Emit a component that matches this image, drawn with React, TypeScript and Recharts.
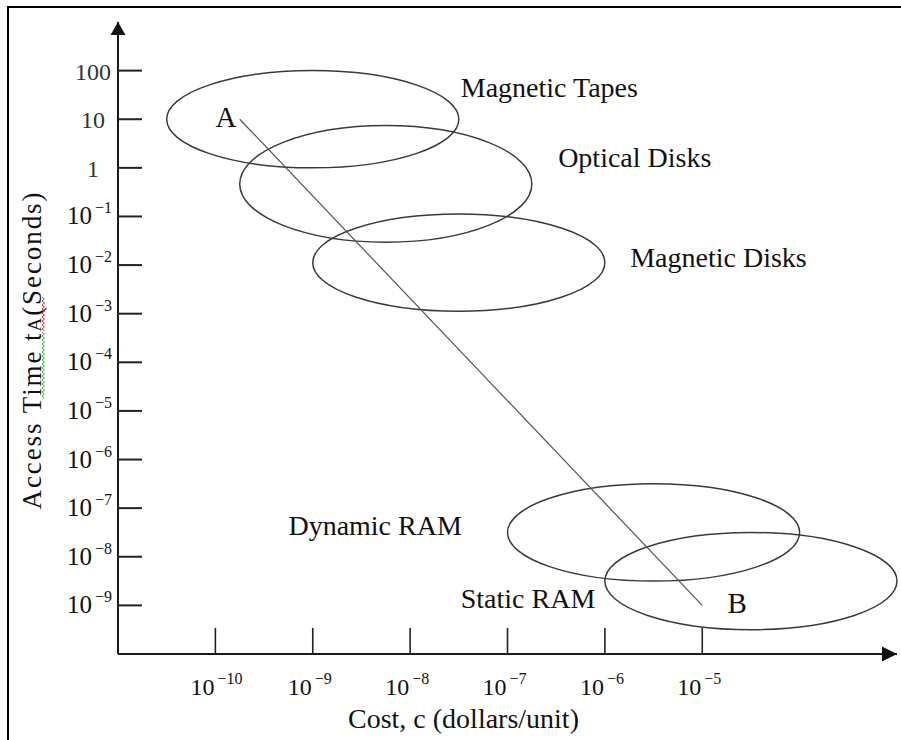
import React from 'react';
import {
  ComposedChart,
  XAxis,
  YAxis,
  Scatter,
  ReferenceArea,
  ReferenceLine,
  ReferenceDot,
} from 'recharts';

// axes are in log10 units: cost (dollars/unit) and access time (seconds)
const X_TICKS = [-10, -9, -8, -7, -6, -5];
const X_TICK_LABELS = ['10^−10', '10^−9', '10^−8', '10^−7', '10^−6', '10^−5'];
const Y_TICKS = [2, 1, 0, -1, -2, -3, -4, -5, -6, -7, -8, -9];
const Y_TICK_LABELS = ['100', '10', '1', '10^−1', '10^−2', '10^−3', '10^−4', '10^−5', '10^−6', '10^−7', '10^−8', '10^−9'];

// storage technology regions (ellipse centre and half widths, in decades)
const REGIONS = ['Magnetic Tapes', 'Optical Disks', 'Magnetic Disks', 'Dynamic RAM', 'Static RAM'];
const REGION_COST = [-9.0, -8.25, -7.5, -5.5, -4.5];
const REGION_TIME = [1.0, -0.33, -1.95, -7.5, -8.5];
const REGION_COST_HALF = [1.5, 1.5, 1.5, 1.5, 1.5];
const REGION_TIME_HALF = [1.0, 1.2, 1.0, 1.0, 1.0];
const LABEL_COST = [-7.48, -6.48, -5.74, -9.25, -7.48];
const LABEL_TIME = [1.46, 0.02, -2.04, -7.55, -9.05];

// trade-off line A -> B
const LINE_POINTS = ['A', 'B'];
const LINE_COST = [-9.75, -5];
const LINE_TIME = [1, -9];
const POINT_LABEL_COST = [-10.0, -4.74];
const POINT_LABEL_TIME = [0.84, -9.16];

const X_DOMAIN = [-11, -3];
const Y_DOMAIN = [-10, 3];

const FONT = '"Liberation Serif", "DejaVu Serif", serif';
const INK = '#111';

const regionLabels = REGIONS.map((name, i) => ({ name, x: LABEL_COST[i], y: LABEL_TIME[i] }));
const pointLabels = LINE_POINTS.map((name, i) => ({ name, x: POINT_LABEL_COST[i], y: POINT_LABEL_TIME[i] }));

function splitLabel(label: string) {
  const [base, sup] = label.split('^');
  return { base, sup };
}

// spell-checker squiggle seen under the rotated axis title
function squiggle(x: number, y0: number, y1: number) {
  let d = `M${x},${y0}`;
  let flip = false;
  for (let y = y0 + 2; y <= y1; y += 2) {
    d += ` L${flip ? x : x + 2.5},${y}`;
    flip = !flip;
  }
  return d;
}

const YTick = (props: any) => {
  const { x, y, index } = props;
  const { base, sup } = splitLabel(Y_TICK_LABELS[index] ?? '');
  return (
    <g>
      <line x1={x} x2={x + 24} y1={y} y2={y} stroke="#222" strokeWidth={2} />
      {sup ? (
        <text x={x - 6} y={y + 8} textAnchor="end" fontFamily={FONT} fill={INK}>
          <tspan fontSize={25}>{base}</tspan>
          <tspan fontSize={16} dx={3} dy={-11}>{sup}</tspan>
        </text>
      ) : (
        <text x={x - 25} y={y + 9} textAnchor="middle" fontFamily={FONT} fontSize={24} fill="#333">
          {base}
        </text>
      )}
    </g>
  );
};

const XTick = (props: any) => {
  const { x, y, index } = props;
  const { base, sup } = splitLabel(X_TICK_LABELS[index] ?? '');
  return (
    <g>
      <line x1={x} x2={x} y1={y} y2={y - 26} stroke="#222" strokeWidth={1.6} />
      <text x={x - 25} y={y + 41} fontFamily={FONT} fill={INK}>
        <tspan fontSize={24}>{base}</tspan>
        <tspan fontSize={16} dx={3} dy={-11}>{sup}</tspan>
      </text>
    </g>
  );
};

const EllipseShape = (props: any) => {
  const { x, y, width, height } = props;
  return (
    <ellipse
      cx={x + width / 2}
      cy={y + height / 2}
      rx={Math.abs(width) / 2}
      ry={Math.abs(height) / 2}
      fill="none"
      stroke="#3a3a3a"
      strokeWidth={1.5}
    />
  );
};

const RegionText = (props: any) => (
  <text x={props.cx} y={props.cy} fontFamily={FONT} fontSize={28} fill={INK}>
    {props.payload.name}
  </text>
);

const PointText = (props: any) => (
  <text x={props.cx} y={props.cy} fontFamily={FONT} fontSize={29} fill={INK}>
    {props.payload.name}
  </text>
);

const XArrow = (props: any) => {
  const { cx, cy } = props;
  return <polygon points={`${cx},${cy} ${cx - 15},${cy - 7.5} ${cx - 15},${cy + 7.5}`} fill="#111" />;
};

const YArrow = (props: any) => {
  const { cx, cy } = props;
  return <polygon points={`${cx},${cy} ${cx - 7.5},${cy + 13} ${cx + 7.5},${cy + 13}`} fill="#111" />;
};

const YTitle = (props: any) => {
  const vb = props.viewBox;
  const bx = vb.x + 23;
  const cy = vb.y + vb.height / 2 + 13;
  return (
    <g>
      <text
        x={bx}
        y={cy}
        transform={`rotate(-90, ${bx}, ${cy})`}
        textAnchor="middle"
        fontFamily={FONT}
        fontSize={27}
        fill={INK}
        textLength={317}
        lengthAdjust="spacing"
      >
        Access Time t<tspan fontSize={19}>A</tspan>(Seconds)
      </text>
      <path d={squiggle(bx + 1, cy - 54, cy - 19)} fill="none" stroke="#e03030" strokeWidth={1} />
      <path d={squiggle(bx + 1, cy - 19, cy + 47)} fill="none" stroke="#2db52d" strokeWidth={1} />
    </g>
  );
};

const XTitle = (props: any) => {
  const vb = props.viewBox;
  return (
    <text
      x={vb.x + vb.width / 2 - 44}
      y={vb.y + 74}
      textAnchor="middle"
      fontFamily={FONT}
      fontSize={28}
      fill={INK}
    >
      Cost, c (dollars/unit)
    </text>
  );
};

export default function App() {
  return (
    <div style={{ position: 'absolute', left: 0, top: 0, width: 901, height: 740, background: '#fff' }}>
      <div
        style={{
          position: 'absolute',
          left: 7,
          top: 6,
          width: 894,
          height: 734,
          borderLeft: '2px solid #000',
          borderTop: '2px solid #000',
        }}
      />
      <ComposedChart
        width={901}
        height={740}
        margin={{ top: 22, right: 4, bottom: 0, left: 18 }}
        style={{ position: 'absolute', left: 0, top: 0 }}
      >
        <XAxis
          type="number"
          dataKey="x"
          domain={X_DOMAIN}
          ticks={X_TICKS}
          interval={0}
          allowDataOverflow
          height={86}
          tickSize={0}
          tickMargin={0}
          tickLine={false}
          tick={<XTick />}
          axisLine={{ stroke: '#1a1a1a', strokeWidth: 2 }}
          label={(p: any) => <XTitle {...p} />}
        />
        <YAxis
          type="number"
          dataKey="y"
          domain={Y_DOMAIN}
          ticks={Y_TICKS}
          interval={0}
          allowDataOverflow
          width={100}
          tickSize={0}
          tickMargin={0}
          tickLine={false}
          tick={<YTick />}
          axisLine={{ stroke: '#1a1a1a', strokeWidth: 2 }}
          label={(p: any) => <YTitle {...p} />}
        />
        {REGIONS.map((name, i) => (
          <ReferenceArea
            key={name}
            x1={REGION_COST[i] - REGION_COST_HALF[i]}
            x2={REGION_COST[i] + REGION_COST_HALF[i]}
            y1={REGION_TIME[i] - REGION_TIME_HALF[i]}
            y2={REGION_TIME[i] + REGION_TIME_HALF[i]}
            ifOverflow="visible"
            shape={<EllipseShape />}
          />
        ))}
        <ReferenceLine
          segment={[
            { x: LINE_COST[0], y: LINE_TIME[0] },
            { x: LINE_COST[1], y: LINE_TIME[1] },
          ]}
          stroke="#555"
          strokeWidth={1.2}
          ifOverflow="visible"
        />
        <ReferenceDot x={X_DOMAIN[1]} y={Y_DOMAIN[0]} ifOverflow="visible" shape={<XArrow />} />
        <ReferenceDot x={X_DOMAIN[0]} y={Y_DOMAIN[1]} ifOverflow="visible" shape={<YArrow />} />
        <Scatter data={regionLabels} shape={<RegionText />} isAnimationActive={false} />
        <Scatter data={pointLabels} shape={<PointText />} isAnimationActive={false} />
      </ComposedChart>
    </div>
  );
}
